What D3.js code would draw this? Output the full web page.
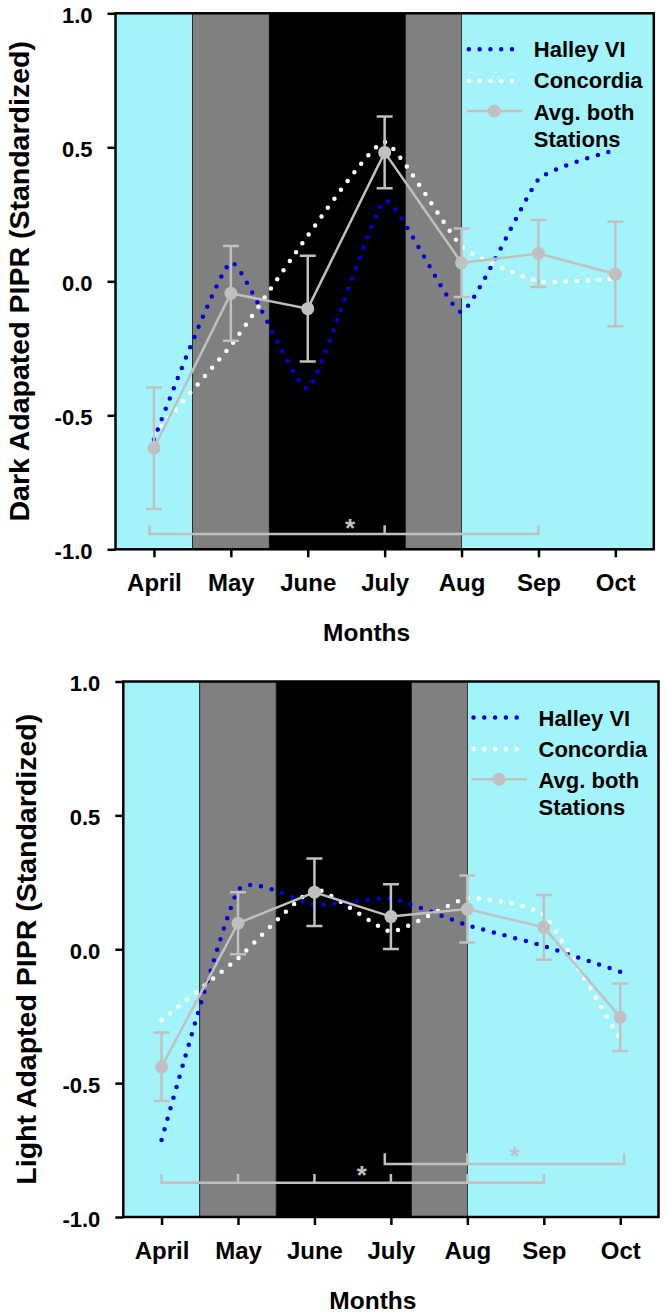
<!DOCTYPE html>
<html><head><meta charset="utf-8">
<script src="https://cdn.jsdelivr.net/npm/d3@7"></script>
<style>
body{margin:0;background:#fff}
svg{display:block}
text{font-family:"Liberation Sans",Arial,sans-serif;font-weight:bold}
</style>
</head><body>
<svg id="c" width="666" height="1315"></svg>
<script>
// ---------- data ----------
const months = ["April","May","June","July","Aug","Sep","Oct"];
const yTicks = [-1, -0.5, 0, 0.5, 1];
const seriesNames = ["Halley VI","Concordia","Avg. both","Stations"];

// light-period background bands (in month units)
const bandStart = [-0.5, 0.5, 1.5, 3.27, 4.0];
const bandEnd   = [ 0.5, 1.5, 3.27, 4.0, 6.5];
const bandKind  = ["day","twilight","night","twilight","day"];

// Dark adapted PIPR
const darkHalley    = [-0.59, 0.07, -0.40, 0.30, -0.115, 0.38, 0.49];
const darkConcordia = [-0.57, -0.24, 0.17, 0.52, 0.13, 0.00, 0.01];
const darkAvg       = [-0.623, -0.045, -0.102, 0.481, 0.069, 0.104, 0.027];
const darkErr       = [0.227, 0.177, 0.197, 0.134, 0.128, 0.125, 0.195];
// significance brackets: from, to, inner ticks, line level, tick top, star x, star y
const darkBrackets = [
  {from:-0.06, to:5, inner:[3], level:-0.943, top:-0.91, sx:2.55, sy:-0.90}
];

// Light adapted PIPR
const lightHalley    = [-0.712, 0.22, 0.165, 0.19, 0.09, 0.012, -0.084];
const lightConcordia = [-0.264, -0.034, 0.224, 0.066, 0.191, 0.128, -0.339];
const lightAvg       = [-0.439, 0.097, 0.213, 0.122, 0.150, 0.082, -0.254];
const lightErr       = [0.128, 0.116, 0.126, 0.121, 0.125, 0.121, 0.126];
const lightBrackets = [
  {from:0, to:5, inner:[1,2,3,4], level:-0.872, top:-0.839, sx:2.62, sy:-0.825},
  {from:2.92, to:6.05, inner:[4], level:-0.802, top:-0.762, sx:4.62, sy:-0.754}
];

// ---------- styles ----------
const bandFill = {day:"#a3f3fb", twilight:"#808080", night:"#000000"};
const BLUE = "#0000dc", WHITE = "#ffffff", GRAY = "#c0c0c0";

const svg = d3.select("#c");

function panel(o){
  const x = d3.scaleLinear().domain([-0.5, 6.5]).range([o.x0, o.x1]);
  const y = d3.scaleLinear().domain([-1, 1]).range([o.yb, o.yt]);
  const g = svg.append("g");

  // bands
  g.selectAll("rect.band").data(bandStart).join("rect")
    .attr("class","band")
    .attr("x", d => x(d))
    .attr("width", (d,i) => x(bandEnd[i]) - x(d))
    .attr("y", y(1)).attr("height", y(-1) - y(1))
    .attr("fill", (d,i) => bandFill[bandKind[i]])
    .attr("stroke", "#111").attr("stroke-width", 0.7);

  const idx = d3.range(months.length);
  const spline = d3.line().x(i => x(i)).curve(d3.curveCardinal.tension(0.55));

  // dotted station series
  [[o.halley, BLUE],[o.concordia, WHITE]].forEach(([vals, col]) => {
    g.append("path")
      .attr("d", spline.y(i => y(vals[i]))(idx))
      .attr("fill","none").attr("stroke", col)
      .attr("stroke-width", 4.5).attr("stroke-linecap","round")
      .attr("stroke-dasharray","0 11");
  });

  // average line
  g.append("path")
    .attr("d", d3.line().x(i => x(i)).y(i => y(o.avg[i]))(idx))
    .attr("fill","none").attr("stroke", GRAY).attr("stroke-width", 2.5);

  // error bars
  const eb = g.append("g").attr("stroke", GRAY).attr("stroke-width", 2.5).attr("fill","none");
  eb.selectAll("path").data(idx).join("path")
    .attr("d", i => {
      const xc = x(i), yt = y(o.avg[i] + o.err[i]), ybt = y(o.avg[i] - o.err[i]);
      return `M${xc},${yt}V${ybt}M${xc-8},${yt}H${xc+8}M${xc-8},${ybt}H${xc+8}`;
    });

  // markers
  g.selectAll("circle.m").data(idx).join("circle")
    .attr("class","m")
    .attr("cx", i => x(i)).attr("cy", i => y(o.avg[i])).attr("r", 6.5)
    .attr("fill", GRAY);

  // significance brackets
  o.brackets.forEach(b => {
    let d = `M${x(b.from)},${y(b.top)}V${y(b.level)}H${x(b.to)}V${y(b.top)}`;
    b.inner.forEach(t => { d += `M${x(t)},${y(b.level)}V${y(b.top)}`; });
    g.append("path").attr("d", d).attr("fill","none")
      .attr("stroke", GRAY).attr("stroke-width", 2.5);
    g.append("text").attr("x", x(b.sx)).attr("y", y(b.sy) + 14)
      .attr("text-anchor","middle").attr("fill", GRAY)
      .style("font-size","26px").text("*");
  });

  // frame
  g.append("rect").attr("x", o.x0).attr("y", y(1))
    .attr("width", o.x1 - o.x0).attr("height", y(-1) - y(1))
    .attr("fill","none").attr("stroke","#000").attr("stroke-width", 2.5);

  // y axis
  const ya = g.append("g").attr("transform", `translate(${o.x0},0)`)
    .call(d3.axisLeft(y).tickValues(yTicks).tickSize(8).tickFormat(d => d.toFixed(1)));
  ya.select(".domain").remove();
  ya.selectAll(".tick line").attr("stroke","#000").attr("stroke-width", 2.5);
  ya.selectAll(".tick text").attr("x", -23).attr("dy", null).attr("y", 9.4)
    .attr("fill","#000").style("font-size","22px").style("font-family",null);

  // x axis
  const xa = g.append("g").attr("transform", `translate(0,${y(-1)})`)
    .call(d3.axisBottom(x).tickValues(idx).tickSize(8).tickFormat(i => months[i]));
  xa.select(".domain").remove();
  xa.selectAll(".tick line").attr("stroke","#000").attr("stroke-width", 2.5);
  xa.selectAll(".tick text").attr("y", 42).attr("dy", null)
    .attr("fill","#000").style("font-size","24px").style("font-family",null);

  // axis titles
  g.append("text")
    .attr("transform", `translate(${o.labX},${(y(1)+y(-1))/2}) rotate(-90)`)
    .attr("text-anchor","middle").style("font-size","28.5px").text(o.ylabel);
  g.append("text")
    .attr("x", (o.x0 + o.x1)/2 - 18).attr("y", y(-1) + 92)
    .attr("text-anchor","middle").style("font-size","24.5px").text("Months");

  // legend
  const lg = g.append("g");
  const tx = o.x1 - 120, ty = y(1);
  const base = [44, 75, 106.7, 133.4];
  lg.append("line").attr("x1", o.x1-185).attr("x2", o.x1-141.8)
    .attr("y1", ty+base[0]-8).attr("y2", ty+base[0]-8)
    .attr("stroke", BLUE).attr("stroke-width", 4.5).attr("stroke-linecap","round").attr("stroke-dasharray","0 10.8");
  lg.append("line").attr("x1", o.x1-185).attr("x2", o.x1-141.8)
    .attr("y1", ty+base[1]-7.5).attr("y2", ty+base[1]-7.5)
    .attr("stroke", WHITE).attr("stroke-width", 4.5).attr("stroke-linecap","round").attr("stroke-dasharray","0 10.8");
  lg.append("line").attr("x1", o.x1-186.8).attr("x2", o.x1-131.8)
    .attr("y1", ty+base[2]-9).attr("y2", ty+base[2]-9)
    .attr("stroke", GRAY).attr("stroke-width", 2.5);
  lg.append("circle").attr("cx", o.x1-159.5).attr("cy", ty+base[2]-9).attr("r", 6.5).attr("fill", GRAY);
  lg.selectAll("text").data(seriesNames).join("text")
    .attr("x", tx).attr("y", (d,i) => ty + base[i])
    .style("font-size","22px").attr("fill","#000").text(d => d);
}

panel({x0:115.5, x1:653.8, yt:13.3, yb:549.3, labX:29,
       halley:darkHalley, concordia:darkConcordia, avg:darkAvg, err:darkErr,
       brackets:darkBrackets, ylabel:"Dark Adapated PIPR (Standardized)"});
panel({x0:123.3, x1:658.5, yt:681.5, yb:1217, labX:36,
       halley:lightHalley, concordia:lightConcordia, avg:lightAvg, err:lightErr,
       brackets:lightBrackets, ylabel:"Light Adapted PIPR (Standardized)"});
</script>
</body></html>
